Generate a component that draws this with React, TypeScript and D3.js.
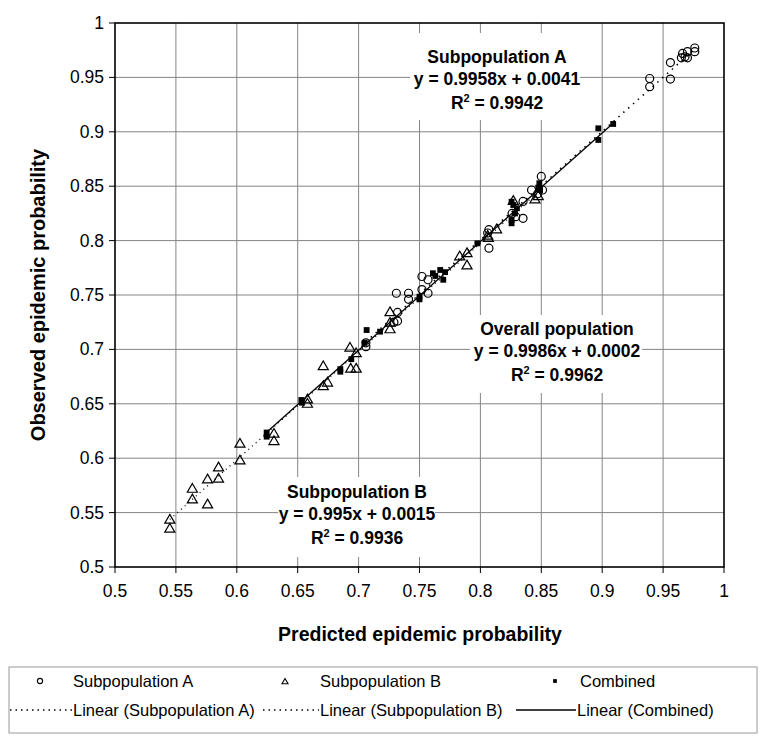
import * as d3 from "d3";

// Subpopulation A (open circles)
const aX = [0.939, 0.939, 0.956, 0.956, 0.966, 0.97, 0.976, 0.976, 0.968, 0.965, 0.97,
  0.85, 0.842, 0.851, 0.847, 0.835, 0.835, 0.829, 0.826, 0.807, 0.806, 0.807,
  0.752, 0.757, 0.731, 0.741, 0.741, 0.752, 0.757, 0.732, 0.732, 0.729, 0.706, 0.706];
const aY = [0.949, 0.9415, 0.9636, 0.9485, 0.972, 0.9736, 0.977, 0.9736, 0.969, 0.968, 0.968,
  0.859, 0.8465, 0.8465, 0.843, 0.836, 0.8205, 0.822, 0.825, 0.81, 0.807, 0.793,
  0.767, 0.764, 0.7516, 0.7516, 0.746, 0.755, 0.7516, 0.734, 0.726, 0.725, 0.7025, 0.706];

// Subpopulation B (open triangles)
const bX = [0.545, 0.545, 0.5635, 0.5635, 0.576, 0.576, 0.585, 0.585, 0.6026, 0.6026,
  0.6305, 0.6305, 0.658, 0.658, 0.671, 0.6745, 0.671, 0.6929, 0.6935, 0.698, 0.698,
  0.7258, 0.7258, 0.7258, 0.783, 0.789, 0.789, 0.806, 0.8133, 0.8065, 0.8448, 0.8475, 0.827];
const bY = [0.543, 0.5347, 0.5714, 0.5616, 0.557, 0.58, 0.591, 0.5806, 0.6128, 0.5974,
  0.622, 0.6152, 0.6535, 0.6495, 0.684, 0.669, 0.6657, 0.701, 0.6818, 0.6818, 0.696,
  0.7337, 0.718, 0.724, 0.785, 0.7767, 0.788, 0.804, 0.8097, 0.802, 0.8373, 0.8404, 0.836];

// Combined (filled squares)
const cX = [0.6245, 0.6245, 0.653, 0.6535, 0.685, 0.685, 0.694, 0.705, 0.7066, 0.7176,
  0.75, 0.75, 0.761, 0.763, 0.767, 0.771, 0.7695, 0.7975,
  0.827, 0.8256, 0.8256, 0.8284, 0.83, 0.8256, 0.8484, 0.849, 0.8475,
  0.8968, 0.8968, 0.909];
const cY = [0.6236, 0.6198, 0.6535, 0.651, 0.6818, 0.6795, 0.691, 0.706, 0.7178, 0.7163,
  0.746, 0.7485, 0.77, 0.7675, 0.773, 0.771, 0.764, 0.7975,
  0.8327, 0.8189, 0.8159, 0.825, 0.8297, 0.8357, 0.8527, 0.8465, 0.8487,
  0.9032, 0.8925, 0.9072];

// trendlines: slope, intercept (A, B, Combined)
const fitSlope = [0.9958, 0.995, 0.9986];
const fitIntercept = [0.0041, 0.0015, 0.0002];
const fitTitle = ["Subpopulation A", "Subpopulation B", "Overall population"];
const fitR2 = ["0.9942", "0.9936", "0.9962"];

const tickValues = [0.5, 0.55, 0.6, 0.65, 0.7, 0.75, 0.8, 0.85, 0.9, 0.95, 1];
const tickLabels = ["0.5", "0.55", "0.6", "0.65", "0.7", "0.75", "0.8", "0.85", "0.9", "0.95", "1"];

const font = "'Liberation Sans', Arial, Helvetica, sans-serif";

const App = () => {
  const x = d3.scaleLinear().domain([0.5, 1]).range([115, 724]);
  const y = d3.scaleLinear().domain([0.5, 1]).range([567, 23]);

  const tri = d3.symbol(d3.symbolTriangle, 44)() as string;
  const sq = d3.symbol(d3.symbolSquare, 34)() as string;

  const line = d3
    .line<number[]>()
    .x((d) => x(d[0]))
    .y((d) => y(d[1]));

  const fitPath = (xs: number[], i: number) => {
    const [lo, hi] = d3.extent(xs) as [number, number];
    return line([lo, hi].map((v) => [v, fitSlope[i] * v + fitIntercept[i]]));
  };

  // white label boxes behind the trendline equations
  const boxes = [
    { x0: 410, y0: 33, x1: 580, y1: 120, cx: 497, cy: 57, i: 0 },
    { x0: 278, y0: 477, x1: 435, y1: 557, cx: 357, cy: 492, i: 1 },
    { x0: 470, y0: 315, x1: 642, y1: 393, cx: 557, cy: 329, i: 2 },
  ];
  const eq = (i: number) =>
    `y = ${fitSlope[i]}x + ${fitIntercept[i].toFixed(4)}`;

  const [xl, xr] = x.range();
  const [yb, yt] = y.range();

  return (
    <svg
      width={768}
      height={742}
      style={{ position: "absolute", left: 0, top: 0, background: "#fff" }}
      fontFamily={font}
    >
      <rect width={768} height={742} fill="#fff" />
      {/* grid */}
      {tickValues.slice(1, -1).map((t) => (
        <g key={t}>
          <line x1={x(t)} x2={x(t)} y1={yt} y2={yb} stroke="#858585" strokeWidth={1} />
          <line x1={xl} x2={xr} y1={y(t)} y2={y(t)} stroke="#858585" strokeWidth={1} />
        </g>
      ))}
      {boxes.map((b) => (
        <rect key={b.i} x={b.x0} y={b.y0} width={b.x1 - b.x0} height={b.y1 - b.y0} fill="#fff" />
      ))}
      {/* ticks */}
      {tickValues.map((t, k) => (
        <g key={t}>
          <line x1={x(t)} x2={x(t)} y1={yb} y2={yb + 6} stroke="#000" />
          <line x1={xl - 6} x2={xl} y1={y(t)} y2={y(t)} stroke="#000" />
          <text x={x(t)} y={yb + 30} fontSize={17.5} textAnchor="middle">
            {tickLabels[k]}
          </text>
          <text x={xl - 11} y={y(t) + 6} fontSize={17.5} textAnchor="end">
            {tickLabels[k]}
          </text>
        </g>
      ))}
      <rect x={xl} y={yt} width={xr - xl} height={yb - yt} fill="none" stroke="#000" strokeWidth={1.6} />

      {/* trendlines */}
      <path d={fitPath(aX, 0) ?? ""} stroke="#000" strokeWidth={1.5} strokeDasharray="1.5,5" fill="none" />
      <path d={fitPath(bX, 1) ?? ""} stroke="#000" strokeWidth={1.3} strokeDasharray="1,4" fill="none" />
      <path d={fitPath(cX, 2) ?? ""} stroke="#000" strokeWidth={1.3} fill="none" />

      {/* markers */}
      {aX.map((v, k) => (
        <circle key={"a" + k} cx={x(v)} cy={y(aY[k])} r={4} fill="none" stroke="#000" strokeWidth={1.2} />
      ))}
      {bX.map((v, k) => (
        <path key={"b" + k} d={tri} transform={`translate(${x(v)},${y(bY[k])})`} fill="none" stroke="#000" strokeWidth={1.2} />
      ))}
      {cX.map((v, k) => (
        <path key={"c" + k} d={sq} transform={`translate(${x(v)},${y(cY[k])})`} fill="#000" />
      ))}

      {/* annotations */}
      {boxes.map((b) => (
        <g key={"t" + b.i} fontWeight="bold" fontSize={17.5} textAnchor="middle">
          <text x={b.cx} y={b.cy + 6}>{fitTitle[b.i]}</text>
          <text x={b.cx} y={b.cy + 28}>{eq(b.i)}</text>
          <text x={b.cx} y={b.cy + 52}>
            R<tspan fontSize={11} dy={-7}>2</tspan>
            <tspan dy={7}> = {fitR2[b.i]}</tspan>
          </text>
        </g>
      ))}

      {/* axis titles */}
      <text x={420} y={641} fontSize={19.5} fontWeight="bold" textAnchor="middle">
        Predicted epidemic probability
      </text>
      <text
        transform="translate(45,295) rotate(-90)"
        fontSize={20}
        fontWeight="bold"
        textAnchor="middle"
      >
        Observed epidemic probability
      </text>

      {/* legend */}
      <rect x={9} y={667} width={748} height={66} fill="#fff" stroke="#9a9a9a" strokeWidth={1} />
      <g fontSize={16.5}>
        <circle cx={40} cy={681} r={2.6} fill="none" stroke="#000" strokeWidth={1.1} />
        <text x={73} y={687}>Subpopulation A</text>
        <path d={d3.symbol(d3.symbolTriangle, 16)() as string} transform="translate(285,682)" fill="none" stroke="#000" strokeWidth={1.1} />
        <text x={320} y={687}>Subpopulation B</text>
        <path d={d3.symbol(d3.symbolSquare, 14)() as string} transform="translate(555,681)" fill="#000" />
        <text x={580} y={687}>Combined</text>

        <line x1={10} x2={72} y1={710} y2={710} stroke="#000" strokeWidth={1.3} strokeDasharray="1.5,4" />
        <text x={73} y={716}>Linear (Subpopulation A)</text>
        <line x1={263} x2={319} y1={710} y2={710} stroke="#000" strokeWidth={1.3} strokeDasharray="1.5,4" />
        <text x={320} y={716}>Linear (Subpopulation B)</text>
        <line x1={516} x2={576} y1={710} y2={710} stroke="#000" strokeWidth={1.3} />
        <text x={577} y={716}>Linear (Combined)</text>
      </g>
    </svg>
  );
};

export default App;
